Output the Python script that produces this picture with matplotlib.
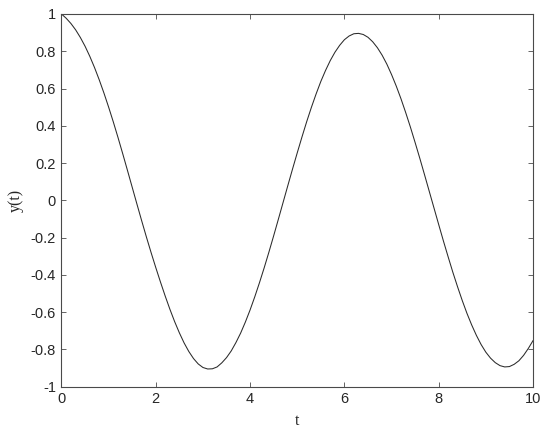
import numpy as np
import matplotlib
matplotlib.use("Agg")
import matplotlib.pyplot as plt

t = np.linspace(0, 10, 101)
y = [1.000, 0.977, 0.949, 0.915, 0.874, 0.827, 0.773, 0.713, 0.647, 0.576,
     0.500, 0.420, 0.336, 0.249, 0.160, 0.070, -0.020, -0.109, -0.196, -0.280,
     -0.361, -0.439, -0.514, -0.585, -0.651, -0.711, -0.765, -0.811, -0.849, -0.878,
     -0.897, -0.905, -0.904, -0.894, -0.872, -0.844, -0.808, -0.763, -0.712, -0.653,
     -0.588, -0.517, -0.441, -0.361, -0.277, -0.190, -0.101, -0.011, 0.079, 0.168,
     0.255, 0.340, 0.422, 0.499, 0.571, 0.638, 0.697, 0.750, 0.795, 0.832,
     0.862, 0.882, 0.894, 0.896, 0.890, 0.875, 0.851, 0.819, 0.779, 0.731,
     0.675, 0.613, 0.545, 0.471, 0.393, 0.310, 0.225, 0.137, 0.048, -0.041,
     -0.130, -0.218, -0.303, -0.386, -0.464, -0.538, -0.607, -0.669, -0.725, -0.774,
     -0.815, -0.847, -0.871, -0.887, -0.894, -0.892, -0.880, -0.861, -0.832, -0.795,
     -0.753]

xticks = [0, 2, 4, 6, 8, 10]
yticks = [-1, -0.8, -0.6, -0.4, -0.2, 0, 0.2, 0.4, 0.6, 0.8, 1]
ytick_labels = ["-1", "-0.8", "-0.6", "-0.4", "-0.2", "0", "0.2", "0.4", "0.6", "0.8", "1"]

axcol = "#4a4a4a"

fig = plt.figure(figsize=(5.5, 4.36), dpi=100)
ax = fig.add_axes([0.1118, 0.1131, 0.8573, 0.8548])
ax.plot(t, y, color="#2a2a2a", lw=0.75)

ax.set_xlim(0, 10)
ax.set_ylim(-1, 1)
ax.set_xticks(xticks)
ax.set_xticklabels([str(v) for v in xticks])
ax.set_yticks(yticks)
ax.set_yticklabels(ytick_labels)

ax.tick_params(direction="in", length=3.5, width=0.6, color=axcol,
               top=True, right=True, labelsize=10.5, labelcolor="#262626", pad=4)
for lbl in ax.get_xticklabels() + ax.get_yticklabels():
    lbl.set_family("Liberation Sans")
for sp in ax.spines.values():
    sp.set_color(axcol)
    sp.set_linewidth(0.8)

ax.set_xlabel("t", family="Liberation Serif", fontsize=11.5, color="#262626", labelpad=5)
ax.set_ylabel("y(t)", family="Liberation Serif", fontsize=11.5, color="#262626", labelpad=5)

fig.savefig("out.png", dpi=100)
